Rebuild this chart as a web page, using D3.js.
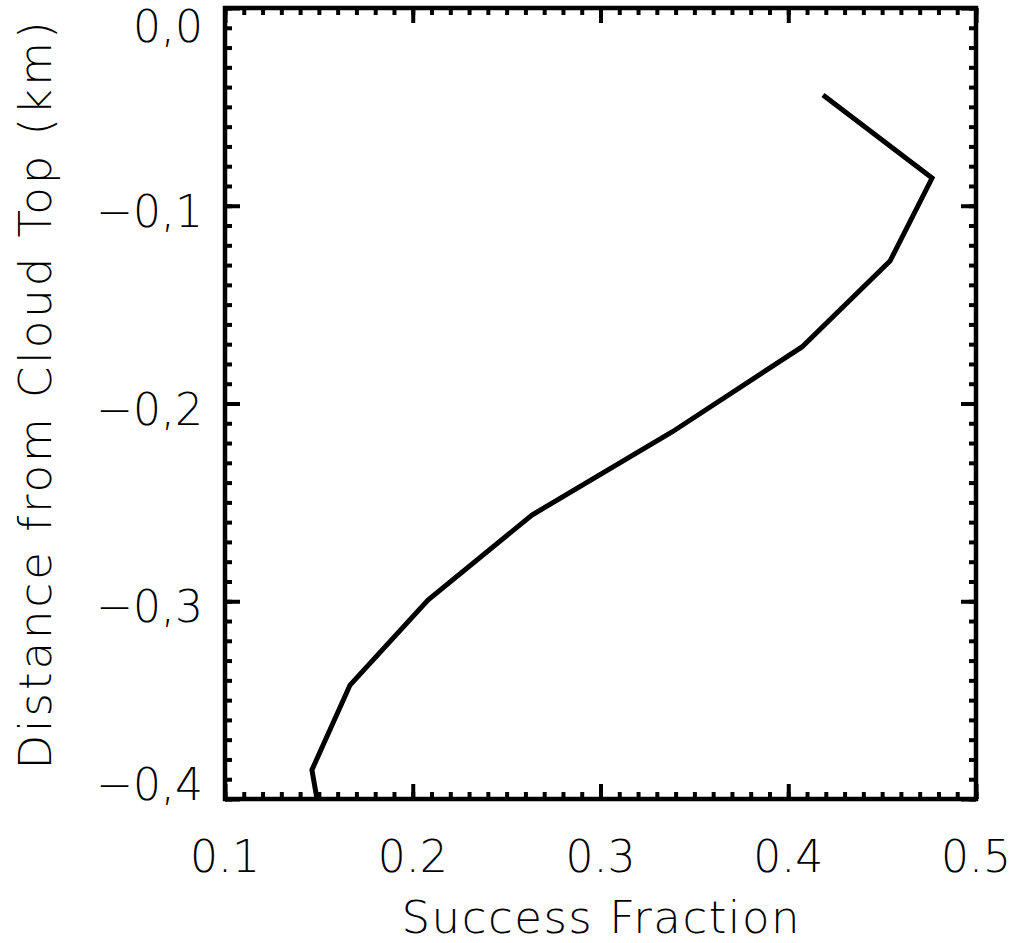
<!DOCTYPE html>
<html>
<head>
<meta charset="utf-8">
<script src="https://cdn.jsdelivr.net/npm/d3@7"></script>
<style>
  body { margin: 0; background: #fff; }
  svg { display: block; }
  text { font-family: "DejaVu Sans", sans-serif; font-weight: 200; fill: #000; }
</style>
</head>
<body>
<svg width="1016" height="943"></svg>
<script>
// success fraction vs. distance from cloud top
var fraction = [0.4185, 0.4766, 0.4542, 0.4073, 0.3381, 0.2635, 0.2081, 0.1666, 0.1463, 0.149];
var distance = [-0.044, -0.086, -0.128, -0.1714, -0.2144, -0.2564, -0.2994, -0.3424, -0.3853, -0.4];

var xTicks = [0.1, 0.2, 0.3, 0.4, 0.5];
var xTickLabels = ["0.1", "0.2", "0.3", "0.4", "0.5"];
var yTicks = [0.0, -0.1, -0.2, -0.3, -0.4];
var yTickLabels = ["0,0", "\u22120,1", "\u22120,2", "\u22120,3", "\u22120,4"];

var xTitle = "Success Fraction";
var yTitle = "Distance from Cloud Top (km)";

var svg = d3.select('svg');
var margin = {top: 8, right: 40, bottom: 144, left: 225};
var width = 1016 - margin.left - margin.right;
var height = 943 - margin.top - margin.bottom;

var x = d3.scaleLinear().domain([0.1, 0.5]).range([0, width]);
var y = d3.scaleLinear().domain([-0.4, 0.0]).range([height, 0]);

var g = svg.append("g")
    .attr("transform", "translate(" + margin.left + "," + margin.top + ")");

// ticks on all four sides, pointing inward
function ticks(axis, count, size, transform) {
    var a = g.append("g")
        .attr("transform", transform)
        .call(axis.tickValues(count).tickSize(size).tickFormat(""));
    a.select(".domain").remove();
    a.selectAll("line").attr("stroke", "#000").attr("stroke-width", 4);
}
var xMinor = d3.range(0, 41).map(function(i){ return 0.1 + i * 0.01; });
var yMinor = d3.range(0, 41).map(function(i){ return -0.4 + i * 0.01; });

ticks(d3.axisBottom(x), xMinor, -7, "translate(0," + height + ")");
ticks(d3.axisBottom(x), xTicks, -15, "translate(0," + height + ")");
ticks(d3.axisTop(x), xMinor, -7, "translate(0,0)");
ticks(d3.axisTop(x), xTicks, -15, "translate(0,0)");
ticks(d3.axisLeft(y), yMinor, -7, "translate(0,0)");
ticks(d3.axisLeft(y), yTicks, -15, "translate(0,0)");
ticks(d3.axisRight(y), yMinor, -7, "translate(" + width + ",0)");
ticks(d3.axisRight(y), yTicks, -15, "translate(" + width + ",0)");

// frame
g.append("rect")
    .attr("x", 0).attr("y", 0)
    .attr("width", width).attr("height", height)
    .attr("fill", "none")
    .attr("stroke", "#000")
    .attr("stroke-width", 4.5);

// tick labels
g.selectAll(".xlab")
    .data(xTicks)
    .enter()
    .append("text")
    .attr("x", function(d){ return x(d); })
    .attr("y", height + 73)
    .attr("text-anchor", "middle")
    .attr("font-size", 44)
    .text(function(d, i){ return xTickLabels[i]; });

g.selectAll(".ylab")
    .data(yTicks)
    .enter()
    .append("text")
    .attr("x", -22)
    .attr("y", function(d){ return Math.min(Math.max(y(d) + 21, 34), height + 1); })
    .attr("text-anchor", "end")
    .attr("font-size", 44)
    .text(function(d, i){ return yTickLabels[i]; });

// axis titles
svg.append("text")
    .attr("x", margin.left + width / 2)
    .attr("y", 933)
    .attr("text-anchor", "middle")
    .attr("font-size", 45)
    .attr("textLength", 398)
    .attr("lengthAdjust", "spacing")
    .text(xTitle);

svg.append("text")
    .attr("transform", "translate(51," + (margin.top + height / 2 - 8) + ") rotate(-90)")
    .attr("text-anchor", "middle")
    .attr("font-size", 45)
    .attr("textLength", 748)
    .attr("lengthAdjust", "spacing")
    .text(yTitle);

// the profile
var line = d3.line()
    .x(function(d){ return x(d[0]); })
    .y(function(d){ return y(d[1]); });

g.append("path")
    .datum(d3.zip(fraction, distance))
    .attr("d", line)
    .attr("fill", "none")
    .attr("stroke", "#000")
    .attr("stroke-width", 5)
    .attr("stroke-linejoin", "miter");
</script>
</body>
</html>
